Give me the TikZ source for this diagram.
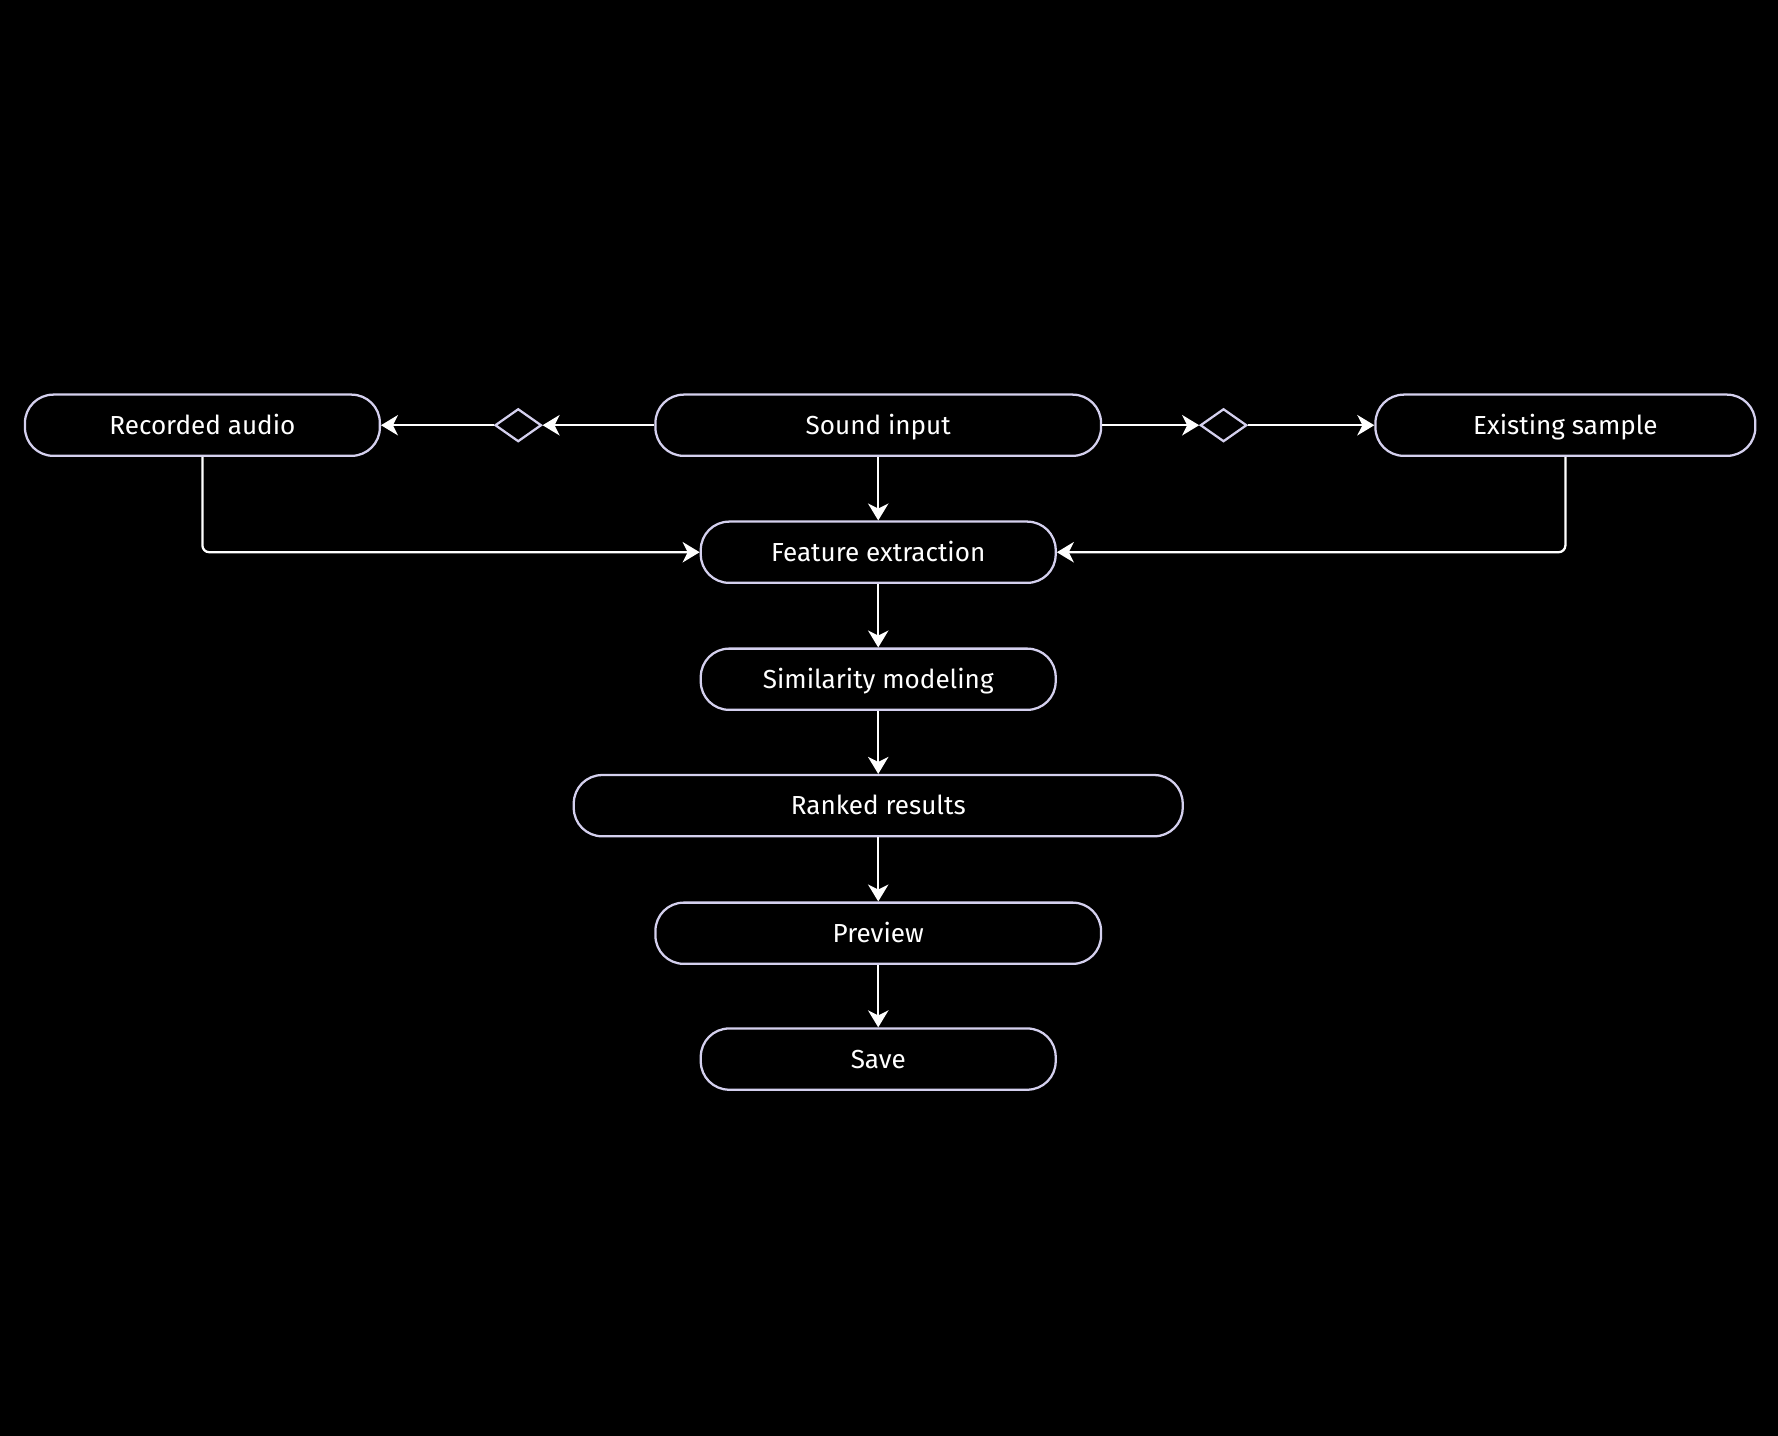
\documentclass[tikz,border=0pt]{standalone}
\usepackage{fontspec}
\setmainfont{Fira Sans}
\usetikzlibrary{arrows.meta,shapes.geometric}
\definecolor{edgec}{HTML}{D4D0EE}
\begin{document}
\begin{tikzpicture}[x=1pt,y=-1pt,
 box/.style={draw=edgec, line width=2pt, fill=black, rounded corners=25pt, minimum height=54pt, text=white, font=\fontsize{23}{27}\selectfont, inner sep=0pt, text height=21pt, text depth=5pt},
 dia/.style={draw=edgec, line width=2pt, diamond, minimum width=41pt, minimum height=29pt, inner sep=0pt},
 conn/.style={draw=white, line width=2pt, -{Stealth[length=15pt,width=18pt,inset=4.5pt]}, rounded corners=6pt}]
\fill[black] (0,0) rectangle (1568,1266);
\useasboundingbox (0,0) rectangle (1568,1266);
\node[box, minimum width=313pt] (rec) at (178.5,375) {Recorded audio};
\node[box, minimum width=393pt] (snd) at (774.5,375) {Sound input};
\node[box, minimum width=335pt] (ex) at (1380.5,375) {Existing sample};
\node[dia] (dL) at (457,375) {};
\node[dia] (dR) at (1079,375) {};
\node[box, minimum width=313pt] (fe) at (774.5,487) {Feature extraction};
\node[box, minimum width=313pt] (sm) at (774.5,599) {Similarity modeling};
\node[box, minimum width=537pt] (rr) at (774.5,710.5) {Ranked results};
\node[box, minimum width=393pt] (pv) at (774.5,823) {Preview};
\node[box, minimum width=313pt] (sv) at (774.5,934) {Save};
\draw[conn] (snd.west) -- (dL.east);
\draw[conn] (dL.west) -- (rec.east);
\draw[conn] (snd.east) -- (dR.west);
\draw[conn] (dR.east) -- (ex.west);
\draw[conn] (snd.south) -- (fe.north);
\draw[conn] (rec.south) |- (fe.west);
\draw[conn] (ex.south) |- (fe.east);
\draw[conn] (fe.south) -- (sm.north);
\draw[conn] (sm.south) -- (rr.north);
\draw[conn] (rr.south) -- (pv.north);
\draw[conn] (pv.south) -- (sv.north);
\end{tikzpicture}
\end{document}
